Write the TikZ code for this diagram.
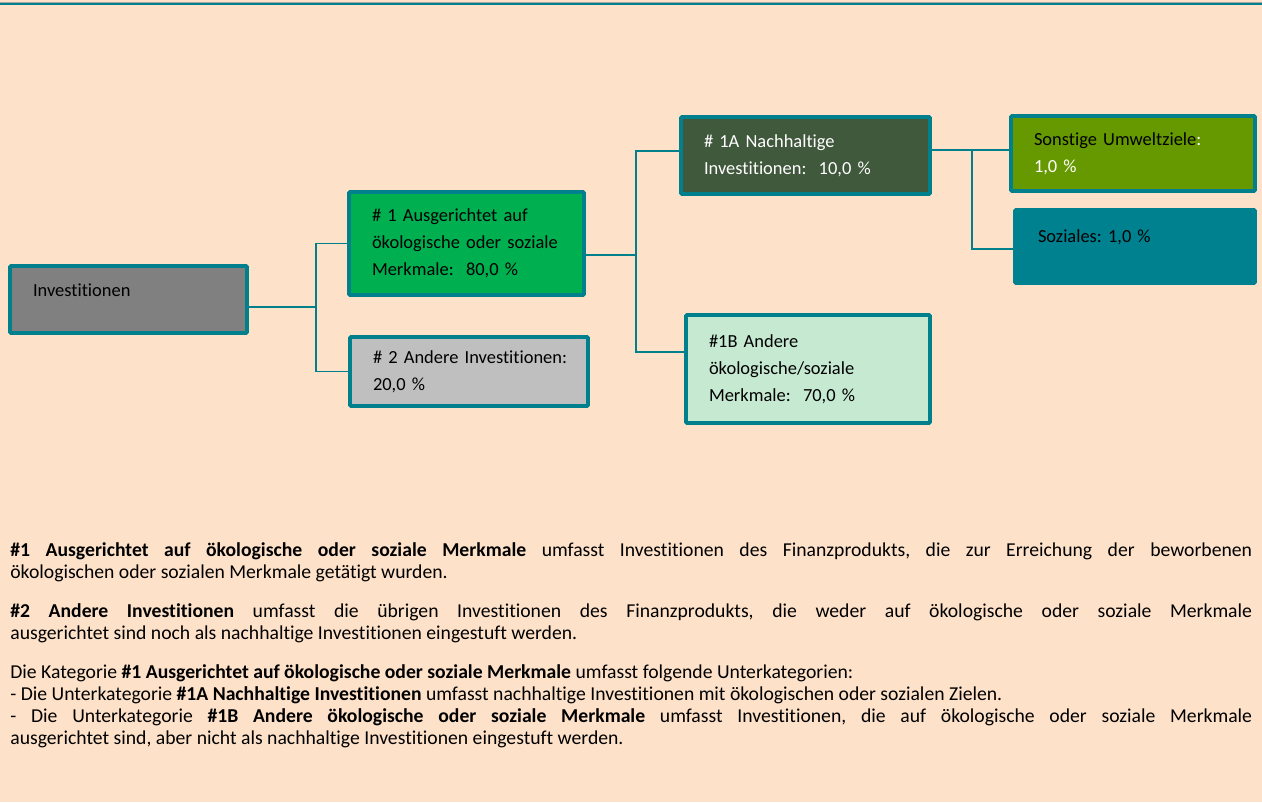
\documentclass[tikz,border=0pt]{standalone}
\usepackage{fontspec}
\setmainfont{Carlito}[Ligatures={NoCommon}]
\usepackage{tikz}
\usetikzlibrary{calc}
\hyphenpenalty=10000
\exhyphenpenalty=10000

\definecolor{bgpeach}{RGB}{253,225,201}
\definecolor{tealline}{RGB}{0,128,140}
\definecolor{invgray}{RGB}{128,128,128}
\definecolor{anygreen}{RGB}{0,176,80}
\definecolor{othgray}{RGB}{191,191,191}
\definecolor{susgreen}{RGB}{64,88,60}
\definecolor{mint}{RGB}{198,233,210}
\definecolor{olive}{RGB}{102,153,0}
\definecolor{socteal}{RGB}{0,129,143}

\tikzset{
  catbox/.style={draw=tealline, line width=2.2pt, rounded corners=0.6pt, rectangle,
    inner xsep=0.46cm, inner ysep=0pt, align=left, anchor=center,
    font=\fontsize{10.5}{15.4}\selectfont\frenchspacing},
  conn/.style={draw=tealline, line width=1.1pt},
}

\begin{document}
\begin{tikzpicture}[x=0.02cm, y=-0.02cm]
		%%%%% START %%%%%
		\fill[bgpeach] (0, 0) rectangle (1262, 802);
		\useasboundingbox (0, 0) rectangle (1262, 802);
		\draw[line width=0.6pt, color=gray!70] (0, 2.4) -- (1262, 2.4);
		\draw[line width=1.3pt, color=tealline] (0, 4.3) -- (1262, 4.3);
		
		% boxes
		\node[catbox, fill=invgray, text width=3.82cm, minimum height=1.34cm, text depth=0.36cm] (inv) at (128.5, 299.5) {Investitionen};
		
		\node[catbox, fill=anygreen, text width=3.78cm, minimum height=2.06cm] (any) at (466.5, 243.5) {\#~1 Ausgerichtet auf\\ökologische~oder~soziale\\Merkmale:~~80,0~\%};
		\node[catbox, fill=othgray, text width=3.84cm, minimum height=1.38cm] (oth) at (469, 371.5) {\mbox{\#~2 Andere Investitionen:}\\20,0~\%};
		
		\node[catbox, fill=susgreen, text=white, text width=4.06cm, minimum height=1.54cm] (sus) at (805.5, 155.5) {\#~1A Nachhaltige\\Investitionen:~~10,0~\%};
		\node[catbox, fill=mint, text width=3.96cm, minimum height=2.16cm] (ocm) at (808, 369) {\#1B Andere\\ökologische/soziale\\Merkmale:~~70,0~\%};
		
		\node[catbox, fill=olive, text width=3.96cm, minimum height=1.5cm] (env) at (1133, 153.5) {Sonstige~Umweltziele\textcolor{white}{:}\\\textcolor{white}{1,0~\%}};
		\node[catbox, draw=socteal, fill=socteal, text width=3.88cm, minimum height=1.46cm, text depth=0.4cm] (soc) at (1135, 246.5) {Soziales: 1,0~\%};
		
		% connectors
		\coordinate (j1) at (316, 307);
		\coordinate (j2) at (636, 255);
		\coordinate (t2) at (636, 151);
		\coordinate (u2) at (636, 352);
		\coordinate (t3) at (972, 150);
		\coordinate (u3) at (972, 249);
		\draw[conn] (j1 -| inv.east) -- (j1);
		\draw[conn] (any.west) -| (j1) |- (oth.west);
		\draw[conn] (j2 -| any.east) -- (j2);
		\draw[conn] (t2 -| sus.west) -- (t2) -- (u2) -- (u2 -| ocm.west);
		\draw[conn] (t3 -| sus.east) -- (t3 -| env.west);
		\draw[conn] (t3) -- (u3) -- (u3 -| soc.west);
		
		% explanation
		\node[anchor=north west, inner sep=0pt, text width=24.84cm, align=justify,
		  font=\fontsize{11.2}{12.6}\selectfont\frenchspacing] (notes) at (10, 542) {%
		  \setlength{\parskip}{9.6pt}%
		  \textbf{\#1 Ausgerichtet auf ökologische oder soziale Merkmale} umfasst Investitionen des Finanzprodukts, die zur Erreichung der beworbenen\linebreak
		  ökologischen oder sozialen Merkmale getätigt wurden.\par
		  \textbf{\#2 Andere Investitionen} umfasst die übrigen Investitionen des Finanzprodukts, die weder auf ökologische oder soziale Merkmale\linebreak
		  ausgerichtet sind noch als nachhaltige Investitionen eingestuft werden.\par
		  Die Kategorie \textbf{\#1 Ausgerichtet auf ökologische oder soziale Merkmale} umfasst folgende Unterkategorien:\\
		  - Die Unterkategorie \textbf{\#1A Nachhaltige Investitionen} umfasst nachhaltige Investitionen mit ökologischen oder sozialen Zielen.\\
		  - Die Unterkategorie \textbf{\#1B Andere ökologische oder soziale Merkmale} umfasst Investitionen, die auf ökologische oder soziale Merkmale\linebreak
		  ausgerichtet sind, aber nicht als nachhaltige Investitionen eingestuft werden.};
		%%%%% END %%%%%
\end{tikzpicture}
\end{document}
